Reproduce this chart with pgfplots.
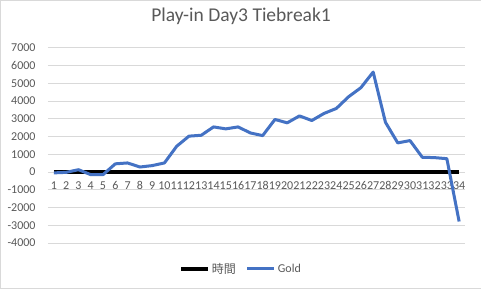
\documentclass[border=0pt]{standalone}
\usepackage{pgfplots}
\pgfplotsset{compat=1.18}
\usepackage{fontspec}
\setmainfont{Carlito}
\newfontfamily\cjk{Noto Sans CJK JP}
\definecolor{txt}{HTML}{595959}
\definecolor{gridc}{HTML}{D9D9D9}
\definecolor{gold}{HTML}{4472C4}
\pgfplotstableread{
x y
1 -50
2 -20
3 130
4 -150
5 -150
6 460
7 510
8 280
9 360
10 510
11 1450
12 2020
13 2070
14 2540
15 2430
16 2540
17 2200
18 2050
19 2960
20 2770
21 3160
22 2900
23 3300
24 3580
25 4240
26 4750
27 5630
28 2800
29 1640
30 1770
31 830
32 810
33 750
34 -2790
}\golddata
\begin{document}
\begin{tikzpicture}[x=1pt,y=1pt]
\path[draw=gridc, fill=white] (0.5,0.5) rectangle (480.5,288.5);
\begin{axis}[at={(48pt,46pt)}, anchor=south west, scale only axis,
  width=417pt, height=195pt,
  xmin=0.5, xmax=34.5, ymin=-4000, ymax=7000,
  ytick={-4000,-3000,...,7000}, xtick={1,...,34},
  axis x line=middle, axis y line=left,
  axis line style={draw=none, -},
  major tick length=0pt,
  ymajorgrids, grid style={gridc, line width=0.75pt},
  /pgf/number format/.cd, 1000 sep={}, assume math mode=true, /pgfplots/.cd,
  scaled y ticks=false,
  ticklabel style={font=\fontsize{12}{14}\selectfont, text=txt},
  yticklabel style={inner sep=0pt, xshift=-12pt},
  xticklabel style={inner sep=0pt, anchor=north, yshift=-9.5pt},
  title={Play-in Day3 Tiebreak1},
  title style={font=\fontsize{19.5}{22}\selectfont, text=txt, at={(0.463,1)}, anchor=base, yshift=20pt},
  legend style={at={(0.463,-0.133)}, anchor=center, draw=none, fill=none,
    font=\fontsize{12}{14}\selectfont, text=txt,
    /tikz/every even column/.append style={column sep=8pt}},
  legend columns=2,
  legend image code/.code={\draw[#1] (0pt,0pt) -- (27pt,0pt);},
  clip=false,
]
\addplot[black, line width=3.5pt] coordinates {(1,0) (34,0)};
\addlegendentry{\cjk 時間}
\addplot[gold, line width=3pt, line join=round] table[x=x,y=y] {\golddata};
\addlegendentry{Gold}
\end{axis}
\end{tikzpicture}
\end{document}
